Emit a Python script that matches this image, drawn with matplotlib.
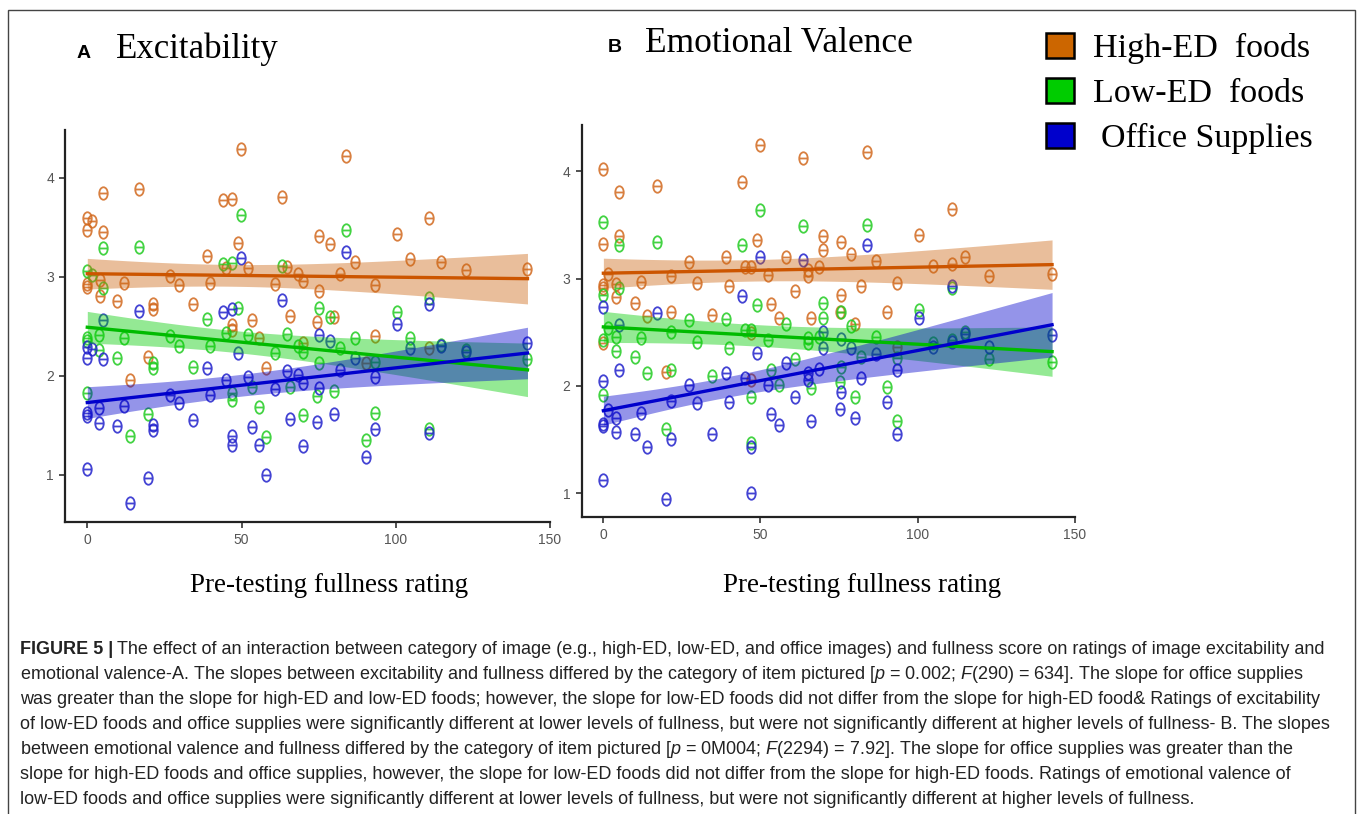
import numpy as np
import matplotlib
matplotlib.use('Agg')
import matplotlib.pyplot as plt
from matplotlib.path import Path
from matplotlib.patches import Rectangle

W, H = 1358, 814

### scatter data (fullness, rating)

# panel A - excitability
xA_high = [0, 0, 1.4, 0, 0, 4.1, 5, 5, 4.1, 9.7, 11.9, 13.8, 16.9, 19.8, 21.4, 21.4, 26.8, 29.8, 34.4, 38.9, 39.8,
           43.9, 44.9, 46.8, 46.8, 46.8, 48.8, 49.7, 52.2, 53.3, 55.8, 57.8, 60.9, 63.2, 64.6, 65.7, 68.2, 69.8,
           69.8, 75.2, 75.2, 74.6, 78.7, 80.1, 81.9, 83.8, 86.8, 93.3, 93.3, 90.4, 100.3, 104.6, 110.8, 110.8,
           114.7, 122.7, 142.7]
yA_high = [3.59, 3.47, 3.56, 2.93, 2.90, 2.81, 3.84, 3.45, 2.97, 2.75, 2.94, 1.96, 3.88, 2.19, 2.72, 2.67, 3.01, 2.92,
           2.72, 3.21, 2.94, 3.77, 3.09, 3.78, 2.51, 2.46, 3.34, 4.29, 3.09, 2.56, 2.38, 2.08, 2.93, 3.80, 3.10,
           2.60, 3.03, 2.96, 2.33, 3.41, 2.86, 2.54, 3.33, 2.59, 3.03, 4.22, 3.15, 2.92, 2.40, 2.13, 3.43, 3.18,
           3.59, 2.28, 3.15, 3.07, 3.08]

xA_low = [0, 1.4, 0, 0, 0, 5, 5, 3.9, 3.9, 9.7, 11.9, 13.8, 16.9, 19.8, 21.4, 21.4, 26.8, 29.8, 34.4, 38.9, 39.8,
          43.9, 44.9, 46.8, 46.8, 46.8, 48.8, 49.7, 52.2, 53.3, 55.8, 57.8, 60.9, 63.2, 64.6, 65.7, 68.2, 69.8,
          69.8, 75.2, 75.2, 74.6, 78.7, 80.1, 81.9, 83.8, 86.8, 93.3, 93.3, 90.4, 100.3, 104.6, 110.8, 110.8,
          114.7, 122.7, 142.7]
yA_low = [3.06, 3.02, 2.38, 2.35, 1.83, 3.29, 2.89, 2.41, 2.26, 2.18, 2.38, 1.39, 3.30, 1.61, 2.13, 2.08, 2.40, 2.30,
          2.09, 2.57, 2.30, 3.13, 2.43, 3.14, 1.83, 1.76, 2.68, 3.62, 2.41, 1.89, 1.69, 1.38, 2.23, 3.11, 2.42,
          1.89, 2.30, 2.24, 1.60, 2.68, 2.13, 1.80, 2.59, 1.85, 2.28, 3.47, 2.38, 2.14, 1.62, 1.35, 2.64, 2.38,
          2.78, 1.46, 2.31, 2.26, 2.17]

xA_office = [0, 0, 1.4, 0, 0, 0, 5, 5, 3.9, 3.9, 9.7, 11.9, 13.8, 16.9, 19.8, 21.4, 21.4, 26.8, 29.8, 34.4, 38.9,
             39.8, 43.9, 44.9, 46.8, 46.8, 46.8, 48.8, 49.7, 52.2, 53.3, 55.8, 57.8, 60.9, 63.2, 64.6, 65.7, 68.2,
             69.8, 69.8, 75.2, 75.2, 74.6, 78.7, 80.1, 81.9, 83.8, 86.8, 93.3, 93.3, 90.4, 100.3, 104.6, 110.8,
             110.8, 114.7, 122.7, 142.7]
yA_office = [2.29, 2.18, 2.27, 1.62, 1.59, 1.06, 2.56, 2.17, 1.68, 1.52, 1.49, 1.70, 0.72, 2.65, 0.97, 1.50, 1.45,
             1.81, 1.73, 1.55, 2.08, 1.81, 2.64, 1.96, 2.67, 1.39, 1.30, 2.23, 3.19, 1.99, 1.48, 1.30, 1.00, 1.87,
             2.76, 2.05, 1.56, 2.01, 1.93, 1.29, 2.41, 1.88, 1.53, 2.35, 1.61, 2.06, 3.25, 2.18, 1.99, 1.46, 1.18,
             2.52, 2.28, 2.72, 1.42, 2.30, 2.24, 2.33]

# panel B - emotional valence
xB_high = [0, 0, 0, 0, 0, 1.6, 4, 4, 5.1, 5.1, 10.1, 12, 14, 17, 20, 21.5, 21.5, 27.1, 29.9, 34.5, 39, 40, 44.1,
           45.1, 46.9, 46.9, 46.9, 48.8, 49.9, 52.5, 53.4, 55.9, 58.1, 61, 63.5, 65, 65, 66, 68.5, 70, 70, 75.6,
           75.6, 75.2, 78.9, 80.1, 82, 83.9, 86.8, 90.4, 93.4, 93.4, 100.3, 104.9, 110.9, 110.9, 115, 122.8, 142.8]
yB_high = [4.02, 3.32, 2.94, 2.91, 2.40, 3.04, 2.95, 2.83, 3.81, 3.40, 2.77, 2.97, 2.65, 3.86, 2.13, 2.69, 3.02,
           3.15, 2.96, 2.66, 3.20, 2.93, 3.90, 3.11, 3.11, 2.49, 2.06, 3.36, 4.24, 3.03, 2.76, 2.63, 3.20, 2.88,
           4.12, 3.08, 3.02, 2.63, 3.11, 3.40, 3.27, 3.34, 2.85, 2.69, 3.23, 2.58, 2.93, 4.18, 3.16, 2.69, 2.96,
           2.36, 3.41, 3.12, 3.65, 3.14, 3.20, 3.02, 3.04]

xB_low = [0, 0, 0, 0, 1.6, 4, 4, 5.1, 5.1, 10.1, 12, 14, 17, 20, 21.5, 21.5, 27.1, 29.9, 34.5, 39, 40, 44.1, 45.1,
          46.9, 46.9, 46.9, 48.8, 49.9, 52.5, 53.4, 55.9, 58.1, 61, 63.5, 65, 65, 66, 68.5, 70, 70, 75.6, 75.6,
          75.2, 78.9, 80.1, 82, 83.9, 86.8, 90.4, 93.4, 93.4, 100.3, 104.9, 110.9, 110.9, 115, 122.8, 142.8]
yB_low = [3.53, 2.85, 2.43, 1.92, 2.54, 2.33, 2.46, 3.31, 2.91, 2.27, 2.45, 2.12, 3.34, 1.60, 2.50, 2.15, 2.61,
          2.41, 2.09, 2.62, 2.35, 3.31, 2.52, 2.52, 1.90, 1.47, 2.75, 3.64, 2.43, 2.15, 2.01, 2.58, 2.25, 3.49,
          2.45, 2.40, 1.98, 2.46, 2.77, 2.63, 2.69, 2.18, 2.04, 2.56, 1.90, 2.27, 3.50, 2.46, 1.99, 2.26, 1.67,
          2.71, 2.40, 2.91, 2.43, 2.50, 2.25, 2.22]

xB_office = [0, 0, 0, 0, 0, 1.6, 4, 4, 5.1, 5.1, 10.1, 12, 14, 17, 20, 21.5, 21.5, 27.1, 29.9, 34.5, 39, 40, 44.1,
             45.1, 46.9, 46.9, 48.8, 49.9, 52.5, 53.4, 55.9, 58.1, 61, 63.5, 65, 65, 66, 68.5, 70, 70, 75.6, 75.6,
             75.2, 78.9, 80.1, 82, 83.9, 86.8, 90.4, 93.4, 93.4, 100.3, 104.9, 110.9, 110.9, 115, 122.8, 142.8]
yB_office = [2.74, 2.05, 1.65, 1.63, 1.12, 1.78, 1.70, 1.57, 2.57, 2.15, 1.55, 1.75, 1.43, 2.68, 0.95, 1.86, 1.51,
             2.01, 1.84, 1.55, 2.12, 1.85, 2.84, 2.07, 1.43, 1.00, 2.31, 3.20, 2.01, 1.74, 1.64, 2.21, 1.90, 3.17,
             2.12, 2.06, 1.67, 2.16, 2.50, 2.35, 2.44, 1.94, 1.79, 2.35, 1.70, 2.07, 3.31, 2.30, 1.85, 2.15, 1.55,
             2.63, 2.36, 2.93, 2.41, 2.48, 2.36, 2.47]

### lm fit: value at x=0, value at x=max, CI half width at start / middle / end

fitA = {'high': (3.03, 2.98, 0.155, 0.11, 0.255),
        'low': (2.49, 2.06, 0.16, 0.11, 0.27),
        'office': (1.73, 2.23, 0.16, 0.11, 0.26)}
fitB = {'high': (3.05, 3.13, 0.14, 0.10, 0.23),
        'low': (2.55, 2.32, 0.145, 0.10, 0.23),
        'office': (1.77, 2.57, 0.135, 0.10, 0.30)}
mid_x = 48

categories = ['high', 'low', 'office']
labels = ['High-ED  foods', 'Low-ED  foods', 'Office Supplies']
point_col = {'high': '#D2691E', 'low': '#22CC22', 'office': '#2222CC'}
line_col = {'high': '#CC5500', 'low': '#00BB00', 'office': '#0000CC'}
band_col = {'high': '#CC6611', 'low': '#00CC00', 'office': '#0000CC'}
legend_col = ['#CC6600', '#00CC00', '#0000CC']

caption_lines = [
    "The effect of an interaction between category of image (e.g., high-ED, low-ED, and office images) and fullness score on ratings of image excitability and",
    "emotional valence-A. The slopes between excitability and fullness differed by the category of item pictured [$p$ = 0.002; $F$(290) = 634]. The slope for office supplies",
    "was greater than the slope for high-ED and low-ED foods; however, the slope for low-ED foods did not differ from the slope for high-ED food& Ratings of excitability",
    "of low-ED foods and office supplies were significantly different at lower levels of fullness, but were not significantly different at higher levels of fullness- B. The slopes",
    "between emotional valence and fullness differed by the category of item pictured [$p$ = 0M004; $F$(2294) = 7.92]. The slope for office supplies was greater than the",
    "slope for high-ED foods and office supplies, however, the slope for low-ED foods did not differ from the slope for high-ED foods. Ratings of emotional valence of",
    "low-ED foods and office supplies were significantly different at lower levels of fullness, but were not significantly different at higher levels of fullness.",
]

cap_font = 'Liberation Sans'
plt.rcParams['mathtext.fontset'] = 'custom'
plt.rcParams['mathtext.it'] = 'Liberation Sans:italic'
plt.rcParams['mathtext.rm'] = 'Liberation Sans'

# theta-like open marker (ellipse with a bar)
circ = Path.unit_circle()
ell = Path(circ.vertices * [0.68, 1.0], circ.codes)
bar = Path([[-0.68, 0], [0.68, 0]], [Path.MOVETO, Path.LINETO])
theta = Path.make_compound_path(ell, bar)


def px(x, y):
    return x / W, 1 - y / H


fig = plt.figure(figsize=(W / 100, H / 100), dpi=100)


def panel(rect, xs, ys, fits, xlim, ylim):
    ax = fig.add_axes(rect)
    for c in categories:
        ax.plot(xs[c], ys[c], ls='none', marker=theta, ms=9, mfc='none', mec=point_col[c], mew=1.3,
                alpha=0.85, zorder=2)
    for c in categories:
        x = np.array(xs[c], dtype=float)
        xmax = x.max()
        y0, y1, h0, hm, h1 = fits[c]
        grid = np.linspace(0, xmax, 200)
        yfit = y0 + (y1 - y0) * grid / xmax
        coef = np.polyfit([0, mid_x, xmax], np.square([h0, hm, h1]), 2)
        half = np.sqrt(np.polyval(coef, grid))
        ax.fill_between(grid, yfit - half, yfit + half, color=band_col[c], alpha=0.42, lw=0, zorder=3)
        ax.plot(grid, yfit, color=line_col[c], lw=2.4, zorder=4)
    ax.set_xlim(*xlim)
    ax.set_ylim(*ylim)
    ax.set_xticks([0, 50, 100, 150])
    ax.set_yticks([1, 2, 3, 4])
    for s in ['top', 'right']:
        ax.spines[s].set_visible(False)
    for s in ['left', 'bottom']:
        ax.spines[s].set_linewidth(1.6)
        ax.spines[s].set_color('#222222')
    ax.tick_params(length=4, width=1.2, color='#333333', labelsize=10, labelcolor='#555555', pad=4)
    for t in ax.get_xticklabels() + ax.get_yticklabels():
        t.set_family('Liberation Sans')
    ax.patch.set_alpha(0)
    return ax


panel([65 / W, (H - 522) / H, (550 - 65) / W, (522 - 130) / H],
      {'high': xA_high, 'low': xA_low, 'office': xA_office},
      {'high': yA_high, 'low': yA_low, 'office': yA_office},
      fitA, (-7.23, 150.0), (0.525, 4.48))
panel([581.7 / W, (H - 517) / H, (1075 - 581.7) / W, (517 - 125) / H],
      {'high': xB_high, 'low': xB_low, 'office': xB_office},
      {'high': yB_high, 'low': yB_low, 'office': yB_office},
      fitB, (-6.9, 150.1), (0.78, 4.43))

### titles and axis labels

fig.text(*px(84, 58), 'A', ha='center', va='baseline', family='Liberation Sans', weight='bold', fontsize=14)
fig.text(*px(116, 58), 'Excitability', ha='left', va='baseline', family='Liberation Serif', fontsize=25)
fig.text(*px(615, 52), 'B', ha='center', va='baseline', family='Liberation Sans', weight='bold', fontsize=14)
fig.text(*px(645, 52), 'Emotional Valence', ha='left', va='baseline', family='Liberation Serif', fontsize=25.5)
fig.text(*px(329, 592), 'Pre-testing fullness rating', ha='center', va='baseline', family='Liberation Serif',
         fontsize=19.5)
fig.text(*px(862, 592), 'Pre-testing fullness rating', ha='center', va='baseline', family='Liberation Serif',
         fontsize=19.5)

### legend

for i, (lab, col) in enumerate(zip(labels, legend_col)):
    top = 33 + 45 * i
    fig.add_artist(Rectangle(px(1046, top + 25), 28 / W, 25 / H, transform=fig.transFigure,
                             facecolor=col, edgecolor='black', lw=1.8))
    fig.text(*px(1093 if i < 2 else 1101, top + 24), lab, ha='left', va='baseline',
             family='Liberation Serif', fontsize=24.5)

### caption: size picked so the longest line spans the width it has in the figure

renderer = fig.canvas.get_renderer()
probe = fig.text(0, 0, caption_lines[3], family=cap_font, fontsize=12)
cap_size = 12 * 1310 / probe.get_window_extent(renderer).width
probe.remove()

t1 = fig.text(*px(20, 654), 'FIGURE 5 |', ha='left', va='baseline', family=cap_font, weight='bold',
              fontsize=cap_size, color='#222222')
x_after = t1.get_window_extent(renderer).x1 + 4
fig.text(x_after / W, 1 - 654 / H, caption_lines[0], ha='left', va='baseline',
         family=cap_font, fontsize=cap_size, color='#222222')
for k, line in enumerate(caption_lines[1:], start=1):
    fig.text(*px(20, 654 + 25 * k), line, ha='left', va='baseline', family=cap_font, fontsize=cap_size,
             color='#222222')

# frame round the whole figure
fig.add_artist(Rectangle(px(8, 830), (1355 - 8) / W, (830 - 10) / H, transform=fig.transFigure,
                         facecolor='none', edgecolor='#444444', lw=1.0))

fig.savefig('out.png', dpi=100)
